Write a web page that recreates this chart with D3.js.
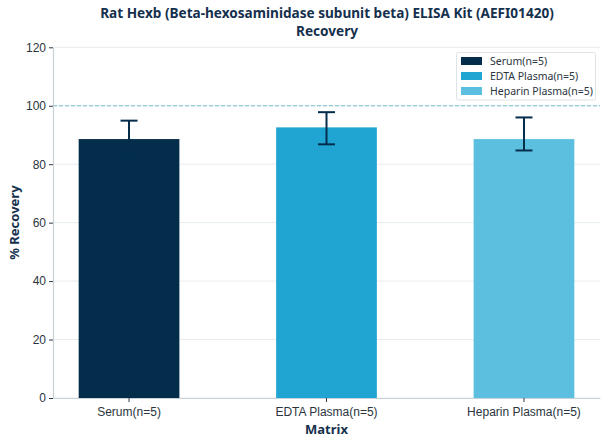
<!DOCTYPE html>
<html>
<head>
<meta charset="utf-8">
<script src="https://cdn.jsdelivr.net/npm/d3@7"></script>
<style>
  body { margin: 0; background: #fff; }
  svg { font-family: "Noto Sans", "Open Sans", sans-serif; }
</style>
</head>
<body>
<div id="chart"></div>
<script>
// data
const categories = ["Serum(n=5)", "EDTA Plasma(n=5)", "Heparin Plasma(n=5)"];
const recovery = [88.6, 92.6, 88.6];
const errLow = [82.3, 86.8, 84.7];
const errHigh = [94.9, 97.8, 96.0];
const colors = ["#032d4b", "#20a5d3", "#5cbfe0"];
const yTicks = [0, 20, 40, 60, 80, 100, 120];

const width = 608, height = 444;
const padding = {top: 47.3, bottom: 46, left: 53, right: 8};

const svg = d3.select("#chart").append("svg")
  .attr("width", width)
  .attr("height", height);

const xScale = d3.scaleBand()
  .domain(categories)
  .range([padding.left, width - padding.right])
  .paddingInner(0.49)
  .paddingOuter(0.13);

const yScale = d3.scaleLinear()
  .domain([0, 120])
  .range([height - padding.bottom, padding.top]);

// grid
svg.append("g")
  .selectAll("line")
  .data(yTicks)
  .enter()
  .append("line")
  .attr("x1", padding.left)
  .attr("x2", width - padding.right)
  .attr("y1", d => yScale(d))
  .attr("y2", d => yScale(d))
  .attr("stroke", "#e6ecef")
  .attr("stroke-width", 1);

// reference line at 100
svg.append("line")
  .attr("x1", padding.left)
  .attr("x2", width - padding.right)
  .attr("y1", yScale(100))
  .attr("y2", yScale(100))
  .attr("stroke", "#7cc0d2")
  .attr("stroke-width", 1)
  .attr("stroke-dasharray", "4,2");

// bars
svg.selectAll("rect.bar")
  .data(categories)
  .enter()
  .append("rect")
  .attr("class", "bar")
  .attr("x", d => xScale(d))
  .attr("y", (d, i) => yScale(recovery[i]))
  .attr("width", xScale.bandwidth())
  .attr("height", (d, i) => yScale(0) - yScale(recovery[i]))
  .style("fill", (d, i) => colors[i]);

// error bars
const errG = svg.append("g")
  .attr("stroke", "#032d4b")
  .attr("stroke-width", 2);
categories.forEach((c, i) => {
  const cx = xScale(c) + xScale.bandwidth() / 2;
  errG.append("line")
    .attr("x1", cx).attr("x2", cx)
    .attr("y1", yScale(errLow[i])).attr("y2", yScale(errHigh[i]));
  [errLow[i], errHigh[i]].forEach(v => {
    errG.append("line")
      .attr("x1", cx - 8.5).attr("x2", cx + 8.5)
      .attr("y1", yScale(v)).attr("y2", yScale(v));
  });
});

// axes
const xAxis = svg.append("g")
  .attr("transform", `translate(0, ${yScale(0)})`)
  .call(d3.axisBottom(xScale).tickSize(4).tickSizeOuter(0));
xAxis.select(".domain").attr("stroke", "#c9d2d8").attr("stroke-width", 1.2);
xAxis.selectAll(".tick line").attr("stroke", "#2e3b48");
xAxis.selectAll(".tick text")
  .attr("fill", "#2b3540")
  .style("font-size", "12px")
  .attr("dy", "0.95em");

const yAxis = svg.append("g")
  .attr("transform", `translate(${padding.left}, 0)`)
  .call(d3.axisLeft(yScale).tickValues(yTicks).tickSize(4).tickSizeOuter(0));
yAxis.select(".domain").attr("stroke", "#c9d2d8").attr("stroke-width", 1.2);
yAxis.selectAll(".tick line").attr("stroke", "#2e3b48");
yAxis.selectAll(".tick text")
  .attr("fill", "#2b3540")
  .style("font-size", "12px");

// labels
svg.append("text")
  .attr("x", (padding.left + width - padding.right) / 2)
  .attr("y", 434)
  .attr("text-anchor", "middle")
  .style("font-size", "13px")
  .style("font-weight", "bold")
  .attr("fill", "#15304d")
  .text("Matrix");

svg.append("text")
  .attr("transform", `translate(19, ${yScale(60)}) rotate(-90)`)
  .attr("text-anchor", "middle")
  .style("font-size", "13px")
  .style("font-weight", "bold")
  .attr("fill", "#15304d")
  .text("% Recovery");

const title = svg.append("g")
  .attr("text-anchor", "middle")
  .style("font-size", "13.6px")
  .style("font-weight", "bold")
  .attr("fill", "#15304d");
title.append("text").attr("x", 327).attr("y", 17.5)
  .text("Rat Hexb (Beta-hexosaminidase subunit beta) ELISA Kit (AEFI01420)");
title.append("text").attr("x", 327).attr("y", 36).text("Recovery");

// legend
const legend = svg.append("g").attr("transform", "translate(456.5, 52.5)");
legend.append("rect")
  .attr("width", 139)
  .attr("height", 47.5)
  .attr("rx", 2)
  .attr("fill", "#fff")
  .attr("fill-opacity", 0.85)
  .attr("stroke", "#dde3e7");
categories.forEach((c, i) => {
  legend.append("rect")
    .attr("x", 4.5)
    .attr("y", 4.5 + i * 15)
    .attr("width", 21)
    .attr("height", 8)
    .style("fill", colors[i]);
  legend.append("text")
    .attr("x", 33.5)
    .attr("y", 8.5 + i * 15)
    .attr("dy", "0.35em")
    .style("font-size", "10.5px")
    .attr("fill", "#2b3540")
    .text(c);
});
</script>
</body>
</html>
